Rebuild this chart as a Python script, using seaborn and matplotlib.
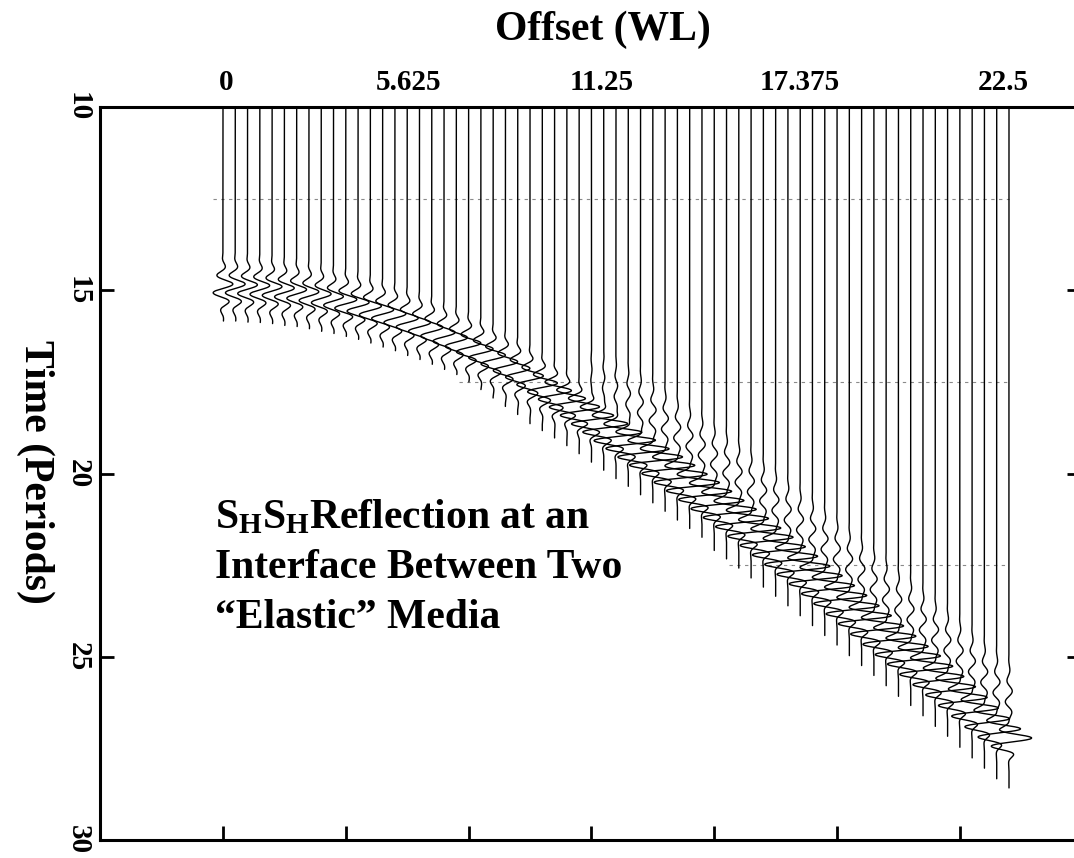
import numpy as np
import pandas as pd
import matplotlib
matplotlib.use("Agg")
import matplotlib.pyplot as plt
import seaborn as sns

# ---------------- data ----------------
# arrival time (periods) of the reflected wavelet on each of the 65 traces
ARRIVAL = [14.95, 14.95, 14.97, 14.99, 15.02, 15.06, 15.10, 15.16, 15.22, 15.29,
           15.37, 15.45, 15.55, 15.65, 15.76, 15.88, 16.00, 16.13, 16.27, 16.41,
           16.56, 16.72, 16.89, 17.07, 17.25, 17.45, 17.64, 17.84, 18.05, 18.27,
           18.50, 18.72, 18.95, 19.16, 19.39, 19.61, 19.84, 20.08, 20.31, 20.55,
           20.80, 21.04, 21.29, 21.55, 21.80, 22.06, 22.32, 22.59, 22.85, 23.12,
           23.39, 23.67, 23.94, 24.22, 24.50, 24.78, 25.04, 25.32, 25.60, 25.88,
           26.17, 26.46, 26.75, 27.03, 27.28]
# wiggle amplitude in units of trace spacing
AMPLITUDE = [0.85] * 10 + [0.95] * 10 + [1.05] * 5 + \
            [1.15, 1.3, 1.45, 1.6, 1.75, 1.9, 2.05, 2.2, 2.3, 2.4] + \
            [2.5] * 23 + [2.4, 2.35, 2.3, 2.2, 2.1, 2.0, 1.9]
# phase of the wavelet (degrees)
PHASE_DEG = [90] * 25 + [86, 82, 78, 74, 70, 66, 62, 58, 54, 50] + [50] * 30
# duration (periods) of the wavelet envelope
DURATION = [0.5] * 25 + [0.48, 0.46, 0.44, 0.42, 0.40, 0.38, 0.36, 0.35, 0.34, 0.33] + \
           [0.32] * 30
# amplitude of the weak ripple that precedes the reflection on far traces
PRECURSOR = [0.0] * 30 + [0.05, 0.1, 0.15, 0.2, 0.25] + [0.3] * 30
# length of the trace drawn below the arrival (periods)
TAIL = [0.9] * 20 + [0.95, 1.0, 1.05, 1.1, 1.15] + [1.2] * 15 + [1.3] * 25

TOP_LABELS = ["0", "5.625", "11.25", "17.375", "22.5"]
TOP_LABEL_POS = [0.3, 15.1, 30.8, 47.0, 63.5]
BOTTOM_TICKS = [0, 10, 20, 30, 40, 50, 60]
Y_TICKS = [10, 15, 20, 25, 30]
DASH_LEVELS = [12.5, 17.5, 22.5]
TEXT_LINES = [r"S$_{\mathrm{H}}$S$_{\mathrm{H}}$Reflection at an",
              "Interface Between Two",
              "\u201cElastic\u201d Media"]

# ---------------- style ----------------
sns.set_theme(style="white")
plt.rcParams["font.family"] = ["Liberation Serif", "DejaVu Serif"]
plt.rcParams["font.weight"] = "bold"
plt.rcParams["text.color"] = "black"
plt.rcParams["axes.labelcolor"] = "black"
plt.rcParams["xtick.color"] = "black"
plt.rcParams["ytick.color"] = "black"
plt.rcParams["mathtext.fontset"] = "custom"
plt.rcParams["mathtext.rm"] = "Liberation Serif:bold"
plt.rcParams["mathtext.bf"] = "Liberation Serif:bold"
plt.rcParams["mathtext.it"] = "Liberation Serif:bold"

PERIOD = 0.5
STEP = 0.01

frames = []
for i, (t0, a, ph, sg, pa, tl) in enumerate(
        zip(ARRIVAL, AMPLITUDE, PHASE_DEG, DURATION, PRECURSOR, TAIL)):
    t = np.arange(10.0, t0 + tl, STEP)
    tau = t - t0
    w = np.cos(2 * np.pi * tau / PERIOD + np.deg2rad(ph)) * np.exp(-(tau / sg) ** 2)
    pre = pa * np.sin(2 * np.pi * (tau + 0.9) / 0.6) * np.exp(-((tau + 1.1) / 0.7) ** 2)
    frames.append(pd.DataFrame({"trace": i, "time": t, "offset": i + a * w + pre}))
df = pd.concat(frames, ignore_index=True)

W, H = 1074, 858
fig = plt.figure(figsize=(W / 100, H / 100), dpi=100)
ax = fig.add_axes([100 / W, 1 - 840 / H, (1081 - 100) / W, (840 - 107) / H])

spacing_px = (1009 - 223) / 64.0
ax.set_xlim((100 - 223) / spacing_px, (1081 - 223) / spacing_px)
ax.set_ylim(30, 10)

# dashed reference lines (only where traces reach)
ends = [t0 + tl for t0, tl in zip(ARRIVAL, TAIL)]
for lev in DASH_LEVELS:
    first = next(i for i, e in enumerate(ends) if e > lev)
    ax.hlines(lev, first - 0.8, len(ARRIVAL) - 1, colors="#8a8a8a",
              linestyles=(0, (3, 4)), linewidth=0.8, zorder=1)

sns.lineplot(data=df, x="offset", y="time", units="trace", estimator=None,
             sort=False, orient="y", color="black", linewidth=1.0,
             legend=False, ax=ax, zorder=2)

ax.set_xlabel("")
ax.set_ylabel("")
ax.set_xticks(BOTTOM_TICKS)
ax.set_xticklabels([])
ax.set_yticks(Y_TICKS)
ax.set_yticklabels([str(v) for v in Y_TICKS], rotation=-90, va="center",
                   fontsize=21, fontweight="bold", color="black")
ax.tick_params(axis="x", which="both", direction="in", length=10, width=2,
               bottom=True, top=False, color="black")
ax.tick_params(axis="y", which="both", direction="in", length=10, width=2,
               left=True, right=True, pad=6, color="black")
for side in ["top", "left", "bottom"]:
    ax.spines[side].set_linewidth(2.2)
    ax.spines[side].set_color("black")
ax.spines["right"].set_visible(False)

sec = ax.secondary_xaxis("top")
sec.set_xticks(TOP_LABEL_POS)
sec.set_xticklabels(TOP_LABELS, fontsize=21, fontweight="bold", color="black")
sec.tick_params(length=0, pad=8)
sec.spines["top"].set_visible(False)

fig.text(603 / W, 1 - 30 / H, "Offset (WL)", ha="center", va="center",
         fontsize=30, fontweight="bold", color="black")
fig.text(35 / W, 1 - 472 / H, "Time (Periods)", ha="center", va="center",
         rotation=-90, fontsize=30, fontweight="bold", color="black")

for k, line in enumerate(TEXT_LINES):
    fig.text(215 / W, 1 - (528 + 50 * k) / H, line, ha="left", va="baseline",
             fontsize=30, fontweight="bold", color="black")

fig.savefig("out.png", dpi=100, facecolor="white")
